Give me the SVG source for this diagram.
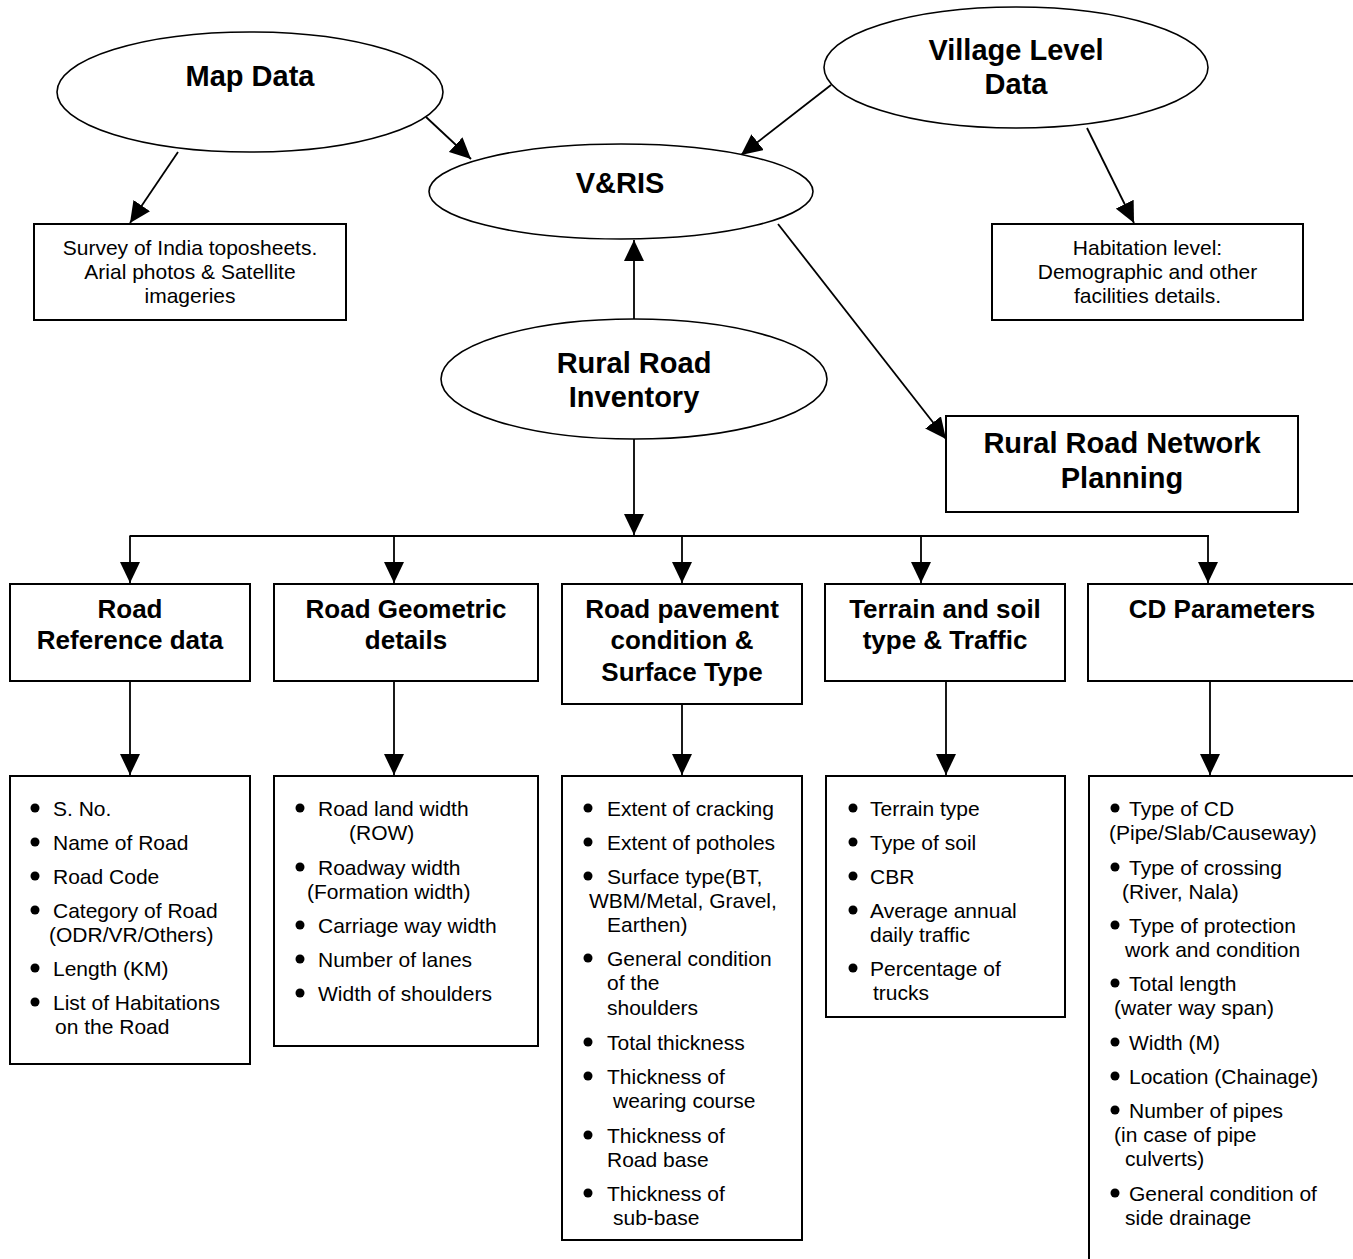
<svg xmlns="http://www.w3.org/2000/svg" width="1353" height="1259" viewBox="0 0 1353 1259">
<defs>
<marker id="ah" markerUnits="userSpaceOnUse" markerWidth="21" markerHeight="20" refX="21" refY="10" orient="auto" viewBox="0 0 21 20">
<path d="M0,0 L21,10 L0,20 z" fill="#000"/>
</marker>
<style>
.sh{fill:#fff;stroke:#000;stroke-width:2}
.el{fill:#fff;stroke:#000;stroke-width:1.6}
.ln{stroke:#000;stroke-width:1.8;fill:none}
.ar{stroke:#000;stroke-width:1.8;fill:none;marker-end:url(#ah)}
.h1{font-family:"Liberation Sans",Arial,sans-serif;font-weight:bold;font-size:29px;text-anchor:middle;fill:#000}
.h2{font-family:"Liberation Sans",Arial,sans-serif;font-weight:bold;font-size:26px;text-anchor:middle;fill:#000}
.tc{font-family:"Liberation Sans",Arial,sans-serif;font-size:21px;text-anchor:middle;fill:#000}
.tx{font-family:"Liberation Sans",Arial,sans-serif;font-size:21px;fill:#000}
.bl{fill:#000}
</style>
</defs>
<rect width="1353" height="1259" fill="#fff"/>

<g id="connectors">
<line class="ar" x1="426" y1="117" x2="471" y2="159"/>
<line class="ar" x1="178" y1="152" x2="130" y2="223"/>
<line class="ar" x1="831" y1="85" x2="741" y2="155"/>
<line class="ar" x1="1087" y1="128" x2="1134" y2="223"/>
<line class="ar" x1="778" y1="224" x2="946" y2="439"/>
<line class="ar" x1="634" y1="319" x2="634" y2="240"/>
<line class="ar" x1="634" y1="439" x2="634" y2="535"/>
<line class="ln" x1="129.5" y1="536" x2="1209" y2="536"/>
<line class="ar" x1="130" y1="536" x2="130" y2="583"/>
<line class="ar" x1="394" y1="536" x2="394" y2="583"/>
<line class="ar" x1="682" y1="536" x2="682" y2="583"/>
<line class="ar" x1="921" y1="536" x2="921" y2="583"/>
<line class="ar" x1="1208" y1="536" x2="1208" y2="583"/>
<line class="ar" x1="130" y1="681" x2="130" y2="775"/>
<line class="ar" x1="394" y1="681" x2="394" y2="775"/>
<line class="ar" x1="682" y1="704" x2="682" y2="775"/>
<line class="ar" x1="946" y1="681" x2="946" y2="775"/>
<line class="ar" x1="1210" y1="681" x2="1210" y2="775"/>
</g>

<g id="map-data">
<ellipse class="el" cx="250" cy="92" rx="193" ry="60"/>
<text class="h1" x="250" y="86">Map Data</text>
</g>

<g id="village-level-data">
<ellipse class="el" cx="1016" cy="67.5" rx="192" ry="60.5"/>
<text class="h1" x="1016" y="60">Village Level</text>
<text class="h1" x="1016" y="94">Data</text>
</g>

<g id="vris">
<ellipse class="el" cx="621" cy="191.5" rx="192" ry="47.5"/>
<text class="h1" x="620" y="193">V&amp;RIS</text>
</g>

<g id="survey-box">
<rect class="sh" x="34" y="224" width="312" height="96"/>
<text class="tc" x="190" y="255">Survey of India toposheets.</text>
<text class="tc" x="190" y="279">Arial photos &amp; Satellite</text>
<text class="tc" x="190" y="303">imageries</text>
</g>

<g id="habitation-box">
<rect class="sh" x="992" y="224" width="311" height="96"/>
<text class="tc" x="1147.5" y="255">Habitation level:</text>
<text class="tc" x="1147.5" y="279">Demographic and other</text>
<text class="tc" x="1147.5" y="303">facilities details.</text>
</g>

<g id="rural-road-inventory">
<ellipse class="el" cx="634" cy="379" rx="193" ry="60"/>
<text class="h1" x="634" y="373">Rural Road</text>
<text class="h1" x="634" y="407">Inventory</text>
</g>

<g id="network-planning">
<rect class="sh" x="946" y="416" width="352" height="96"/>
<text class="h1" x="1122" y="453">Rural Road Network</text>
<text class="h1" x="1122" y="488">Planning</text>
</g>

<g id="road-reference">
<rect class="sh" x="10" y="584" width="240" height="97"/>
<text class="h2" x="130" y="618">Road</text>
<text class="h2" x="130" y="649">Reference data</text>
</g>

<g id="road-geometric">
<rect class="sh" x="274" y="584" width="264" height="97"/>
<text class="h2" x="406" y="618">Road Geometric</text>
<text class="h2" x="406" y="649">details</text>
</g>

<g id="road-pavement">
<rect class="sh" x="562" y="584" width="240" height="120"/>
<text class="h2" x="682" y="618">Road pavement</text>
<text class="h2" x="682" y="649">condition &amp;</text>
<text class="h2" x="682" y="681">Surface Type</text>
</g>

<g id="terrain-soil">
<rect class="sh" x="825" y="584" width="240" height="97"/>
<text class="h2" x="945" y="618">Terrain and soil</text>
<text class="h2" x="945" y="649">type &amp; Traffic</text>
</g>

<g id="cd-parameters">
<rect class="sh" x="1088" y="584" width="270" height="97"/>
<text class="h2" x="1222" y="618">CD Parameters</text>
</g>

<g id="list-reference">
<rect class="sh" x="10" y="776" width="240" height="288"/>
<circle class="bl" cx="35" cy="808" r="4.5"/>
<text class="tx" x="53" y="816">S. No.</text>
<circle class="bl" cx="35" cy="842" r="4.5"/>
<text class="tx" x="53" y="850">Name of Road</text>
<circle class="bl" cx="35" cy="876" r="4.5"/>
<text class="tx" x="53" y="884">Road Code</text>
<circle class="bl" cx="35" cy="910" r="4.5"/>
<text class="tx" x="53" y="918">Category of Road</text>
<text class="tx" x="49" y="942">(ODR/VR/Others)</text>
<circle class="bl" cx="35" cy="968" r="4.5"/>
<text class="tx" x="53" y="976">Length (KM)</text>
<circle class="bl" cx="35" cy="1002" r="4.5"/>
<text class="tx" x="53" y="1010">List of Habitations</text>
<text class="tx" x="55" y="1034">on the Road</text>
</g>

<g id="list-geometric">
<rect class="sh" x="274" y="776" width="264" height="270"/>
<circle class="bl" cx="300" cy="808" r="4.5"/>
<text class="tx" x="318" y="816">Road land width</text>
<text class="tx" x="349" y="840">(ROW)</text>
<circle class="bl" cx="300" cy="867" r="4.5"/>
<text class="tx" x="318" y="875">Roadway width</text>
<text class="tx" x="307" y="899">(Formation width)</text>
<circle class="bl" cx="300" cy="925" r="4.5"/>
<text class="tx" x="318" y="933">Carriage way width</text>
<circle class="bl" cx="300" cy="959" r="4.5"/>
<text class="tx" x="318" y="967">Number of lanes</text>
<circle class="bl" cx="300" cy="993" r="4.5"/>
<text class="tx" x="318" y="1001">Width of shoulders</text>
</g>

<g id="list-pavement">
<rect class="sh" x="562" y="776" width="240" height="464"/>
<circle class="bl" cx="588" cy="808" r="4.5"/>
<text class="tx" x="607" y="816">Extent of cracking</text>
<circle class="bl" cx="588" cy="842" r="4.5"/>
<text class="tx" x="607" y="850">Extent of potholes</text>
<circle class="bl" cx="588" cy="876" r="4.5"/>
<text class="tx" x="607" y="884">Surface type(BT,</text>
<text class="tx" x="589" y="908">WBM/Metal, Gravel,</text>
<text class="tx" x="607" y="932">Earthen)</text>
<circle class="bl" cx="588" cy="958" r="4.5"/>
<text class="tx" x="607" y="966">General condition</text>
<text class="tx" x="607" y="990">of the</text>
<text class="tx" x="607" y="1015">shoulders</text>
<circle class="bl" cx="588" cy="1042" r="4.5"/>
<text class="tx" x="607" y="1050">Total thickness</text>
<circle class="bl" cx="588" cy="1076" r="4.5"/>
<text class="tx" x="607" y="1084">Thickness of</text>
<text class="tx" x="613" y="1108">wearing course</text>
<circle class="bl" cx="588" cy="1135" r="4.5"/>
<text class="tx" x="607" y="1143">Thickness of</text>
<text class="tx" x="607" y="1167">Road base</text>
<circle class="bl" cx="588" cy="1193" r="4.5"/>
<text class="tx" x="607" y="1201">Thickness of</text>
<text class="tx" x="613" y="1225">sub-base</text>
</g>

<g id="list-terrain">
<rect class="sh" x="826" y="776" width="239" height="241"/>
<circle class="bl" cx="853" cy="808" r="4.5"/>
<text class="tx" x="870" y="816">Terrain type</text>
<circle class="bl" cx="853" cy="842" r="4.5"/>
<text class="tx" x="870" y="850">Type of soil</text>
<circle class="bl" cx="853" cy="876" r="4.5"/>
<text class="tx" x="870" y="884">CBR</text>
<circle class="bl" cx="853" cy="910" r="4.5"/>
<text class="tx" x="870" y="918">Average annual</text>
<text class="tx" x="870" y="942">daily traffic</text>
<circle class="bl" cx="853" cy="968" r="4.5"/>
<text class="tx" x="870" y="976">Percentage of</text>
<text class="tx" x="873" y="1000">trucks</text>
</g>

<g id="list-cd">
<rect class="sh" x="1089" y="776" width="270" height="500"/>
<circle class="bl" cx="1115" cy="808" r="4.5"/>
<text class="tx" x="1129" y="816">Type of CD</text>
<text class="tx" x="1109" y="840">(Pipe/Slab/Causeway)</text>
<circle class="bl" cx="1115" cy="867" r="4.5"/>
<text class="tx" x="1129" y="875">Type of crossing</text>
<text class="tx" x="1122" y="899">(River, Nala)</text>
<circle class="bl" cx="1115" cy="925" r="4.5"/>
<text class="tx" x="1129" y="933">Type of protection</text>
<text class="tx" x="1125" y="957">work and condition</text>
<circle class="bl" cx="1115" cy="983" r="4.5"/>
<text class="tx" x="1129" y="991">Total length</text>
<text class="tx" x="1114" y="1015">(water way span)</text>
<circle class="bl" cx="1115" cy="1042" r="4.5"/>
<text class="tx" x="1129" y="1050">Width (M)</text>
<circle class="bl" cx="1115" cy="1076" r="4.5"/>
<text class="tx" x="1129" y="1084">Location (Chainage)</text>
<circle class="bl" cx="1115" cy="1110" r="4.5"/>
<text class="tx" x="1129" y="1118">Number of pipes</text>
<text class="tx" x="1114" y="1142">(in case of pipe</text>
<text class="tx" x="1125" y="1166">culverts)</text>
<circle class="bl" cx="1115" cy="1193" r="4.5"/>
<text class="tx" x="1129" y="1201">General  condition of</text>
<text class="tx" x="1125" y="1225">side drainage</text>
</g>
</svg>
